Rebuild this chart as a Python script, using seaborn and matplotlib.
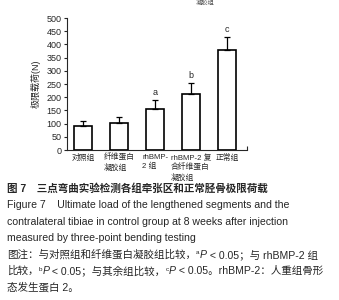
import matplotlib
matplotlib.use("Agg")
import matplotlib.pyplot as plt
import numpy as np
import pandas as pd
import seaborn as sns

# values
groups = ["对照组", "纤维蛋白\n凝胶组", "rhBMP-\n2 组", "rhBMP-2 复\n合纤维蛋白\n凝胶组", "正常组"]
means = [92, 102, 157, 214, 378]
sds = [17, 24, 31, 41, 51]
marks = ["", "", "a", "b", "c"]
y_ticks = list(range(0, 501, 50))

sns.set_theme(style="ticks")
plt.rcParams['font.family'] = ['Liberation Sans', 'Noto Sans CJK SC', 'DejaVu Sans']

df = pd.DataFrame({"group": groups, "mean": means, "sd": sds})

fig = plt.figure(figsize=(3.39, 3.0), dpi=100)
ax = fig.add_axes([0.198, 0.5, 0.531, 0.44])

sns.barplot(data=df, x="group", y="mean", color="white", edgecolor="black",
            linewidth=1.2, width=0.5, ax=ax)
x = np.arange(len(groups))
ax.errorbar(x, df["mean"], yerr=[np.zeros(len(sds)), df["sd"]], fmt="none",
            ecolor="black", elinewidth=0.9, capsize=2, capthick=0.9)
for xi, m, s, lab in zip(x, means, sds, marks):
    if lab:
        ax.text(xi, m + s + 12, lab, ha="center", va="bottom", fontsize=6.5)

ax.set_xlim(-0.45, 4.55)
ax.set_ylim(0, 500)
ax.set_yticks(y_ticks)
ax.tick_params(axis="y", labelsize=6.5, length=2.5, width=0.8, pad=1.5)
ax.tick_params(axis="x", length=0, pad=3)
for t in ax.get_xticklabels():
    t.set_fontsize(5.6)
    t.set_multialignment("left")
    t.set_linespacing(1.3)
ax.set_xticks([4.55], minor=True)
ax.tick_params(axis="x", which="minor", direction="in", length=3, width=0.8)
ax.set_xlabel("")
ax.set_ylabel("极限载荷(N)", fontsize=6.5, labelpad=4)
sns.despine(ax=ax)
for sp in ["left", "bottom"]:
    ax.spines[sp].set_linewidth(0.8)

# leftover label from the figure above
fig.text(0.605, 0.999, "凝胶组", fontsize=4.5, ha="center", va="top", color="#555555")

FS = 7.6


def rich_line(y, pieces):
    # pieces: (text, kind) with kind in "n" normal, "i" italic, "s" superscript
    t = fig.text(0.02, y, pieces[0][0], fontsize=FS, ha="left", va="bottom")
    lift = 0
    for s, kind in pieces[1:]:
        if kind == "s":
            t = ax.annotate(s, xy=(1, 0), xycoords=t, xytext=(0.3, 3.2),
                            textcoords="offset points", fontsize=FS * 0.6,
                            ha="left", va="bottom", annotation_clip=False)
            lift = 3.2
        else:
            t = ax.annotate(s, xy=(1, 0), xycoords=t, xytext=(0, -lift),
                            textcoords="offset points", fontsize=FS,
                            style="italic" if kind == "i" else "normal",
                            ha="left", va="bottom", annotation_clip=False)
            lift = 0
    return t


fig.text(0.02, 0.373, "图 7　三点弯曲实验检测各组牵张区和正常胫骨极限荷载",
         fontsize=FS, fontweight="bold", ha="left", va="center")
fig.text(0.02, 0.316, "Figure 7    Ultimate load of the lengthened segments and the",
         fontsize=FS, ha="left", va="center")
fig.text(0.02, 0.261, "contralateral tibiae in control group at 8 weeks after injection",
         fontsize=FS, ha="left", va="center")
fig.text(0.02, 0.206, "measured by three-point bending testing",
         fontsize=FS, ha="left", va="center")
rich_line(0.134, [("图注：与对照组和纤维蛋白凝胶组比较，", "n"), ("a", "s"), ("P", "i"),
                  (" < 0.05；与 rhBMP-2 组", "n")])
rich_line(0.080, [("比较，", "n"), ("b", "s"), ("P", "i"), (" < 0.05；与其余组比较，", "n"),
                  ("c", "s"), ("P", "i"), (" < 0.05。rhBMP-2：人重组骨形", "n")])
rich_line(0.026, [("态发生蛋白 2。", "n")])

fig.savefig("out.png", dpi=100)
